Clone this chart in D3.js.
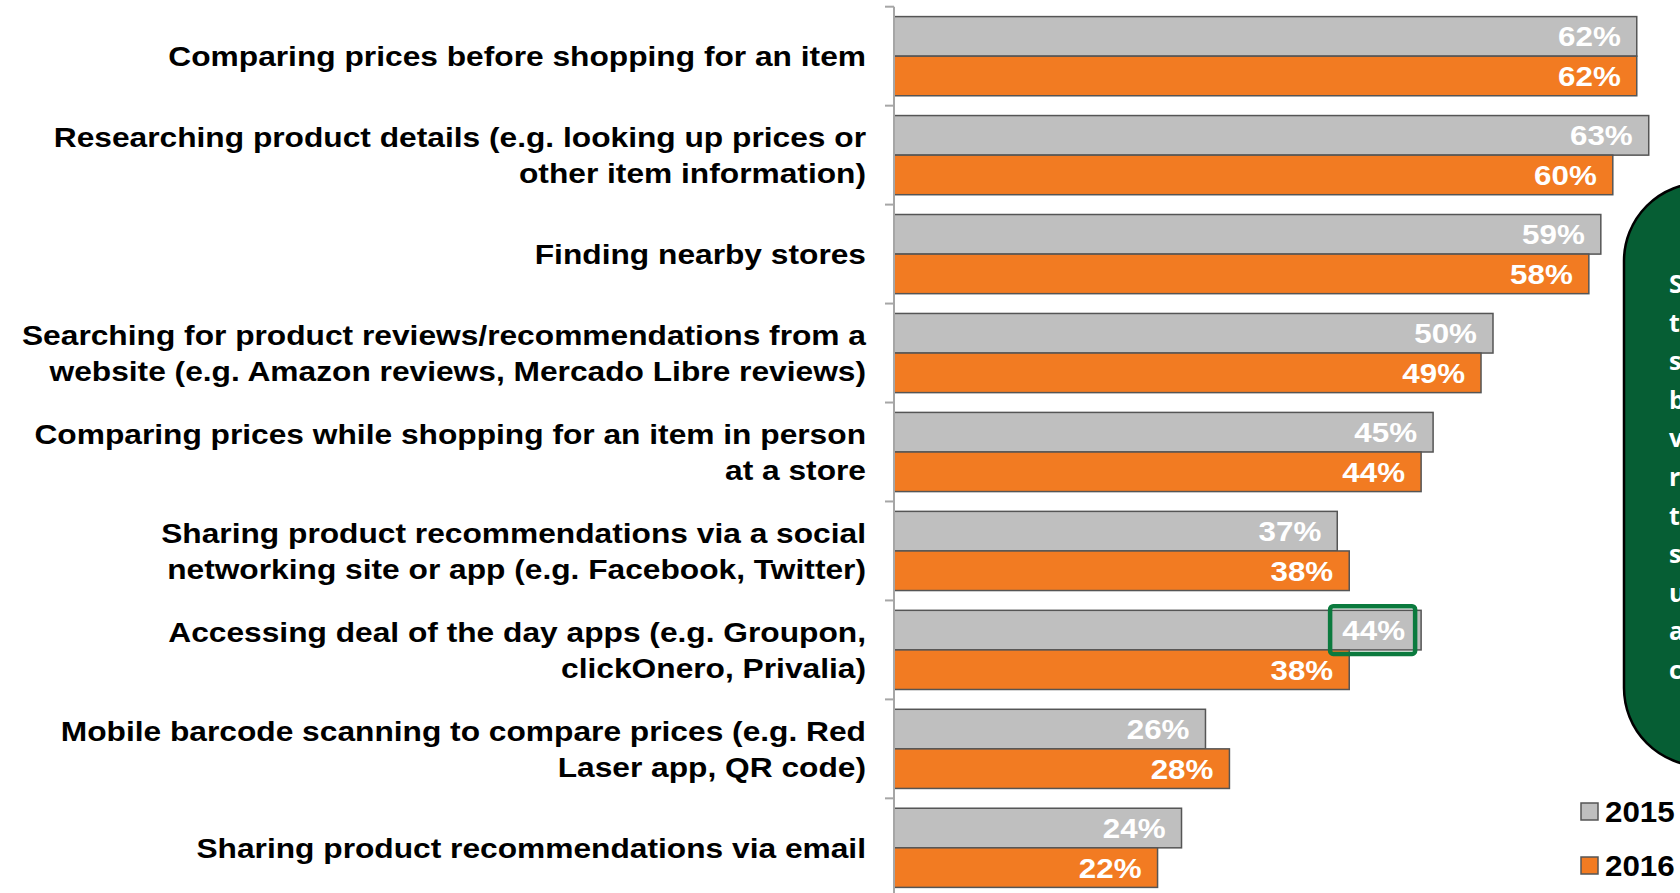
<!DOCTYPE html>
<html>
<head>
<meta charset="utf-8">
<script src="https://cdn.jsdelivr.net/npm/d3@7"></script>
<style>
  html, body { margin: 0; padding: 0; background: #fff; overflow: hidden; }
  svg { display: block; }
</style>
</head>
<body>
<svg id="chart" width="1680" height="893"></svg>
<script>
// Mobile shopping activities, share of respondents by year
const categories = [
  "Comparing prices before shopping for an item",
  "Researching product details (e.g. looking up prices or\nother item information)",
  "Finding nearby stores",
  "Searching for product reviews/recommendations from a\nwebsite (e.g. Amazon reviews, Mercado Libre reviews)",
  "Comparing prices while shopping for an item in person\nat a store",
  "Sharing product recommendations via a social\nnetworking site or app (e.g. Facebook, Twitter)",
  "Accessing deal of the day apps (e.g. Groupon,\nclickOnero, Privalia)",
  "Mobile barcode scanning to compare prices (e.g. Red\nLaser app, QR code)",
  "Sharing product recommendations via email"
];
const seriesNames = ["2015", "2016"];
const values2015 = [62, 63, 59, 50, 45, 37, 44, 26, 24];
const values2016 = [62, 60, 58, 49, 44, 38, 38, 28, 22];
const highlightCategory = "Accessing deal of the day apps (e.g. Groupon,\nclickOnero, Privalia)";
const highlightSeries = "2015";
const noteLines = ["Shoppers", "turn to", "smartphones", "before", "visiting a", "retailer,", "to check", "stores,", "use deal", "apps and", "compare"];

const colors = { "2015": "#bfbfbf", "2016": "#f27b22" };
const seriesValues = { "2015": values2015, "2016": values2016 };

const svg = d3.select("#chart");
const axisX = 894;
const FONT = "'Liberation Sans', Arial, sans-serif";

const x = d3.scaleLinear().domain([0, 70]).range([axisX, axisX + 70 * 11.98]);
const y = d3.scaleBand().domain(categories).range([6.7, 897.3]).paddingInner(0.2).paddingOuter(0.1);
const ySub = d3.scaleBand().domain(seriesNames).range([0, y.bandwidth()]);

const rows = categories.map((c, i) => ({ cat: c, vals: seriesNames.map(s => ({ s, v: seriesValues[s][i] })) }));

// Bars
const groups = svg.append("g").selectAll("g.row").data(rows).join("g")
  .attr("class", "row")
  .attr("transform", d => `translate(0,${y(d.cat)})`);

groups.selectAll("rect").data(d => d.vals).join("rect")
  .attr("x", x(0))
  .attr("y", d => ySub(d.s))
  .attr("width", d => x(d.v) - x(0))
  .attr("height", ySub.bandwidth())
  .attr("fill", d => colors[d.s])
  .attr("stroke", "#555")
  .attr("stroke-width", 1.5);

// Value labels inside bar ends (wide bold face)
groups.selectAll("text.val").data(d => d.vals).join("text")
  .attr("class", "val")
  .attr("transform", d => `translate(${x(d.v) - 16},${ySub(d.s) + ySub.bandwidth() / 2}) scale(1.12,1)`)
  .attr("dy", "0.36em")
  .attr("text-anchor", "end")
  .attr("fill", "#fff")
  .style("font-family", FONT)
  .style("font-weight", "bold")
  .style("font-size", "28px")
  .text(d => d.v + "%");

// Highlight frame around one label
const hi = rows.find(r => r.cat === highlightCategory).vals.find(v => v.s === highlightSeries);
svg.append("rect")
  .attr("x", x(hi.v) - 91)
  .attr("y", y(highlightCategory) + ySub(highlightSeries) - 4)
  .attr("width", 85)
  .attr("height", ySub.bandwidth() + 8)
  .attr("rx", 3)
  .attr("fill", "none")
  .attr("stroke", "#0b7a3e")
  .attr("stroke-width", 4.5);

// Category axis: vertical rule with outward ticks between groups
svg.append("line")
  .attr("x1", axisX).attr("x2", axisX)
  .attr("y1", 6.7).attr("y2", 893)
  .attr("stroke", "#a6a6a6").attr("stroke-width", 2);
const step = y.step();
const tickYs = d3.range(categories.length + 1).map(i => y(categories[0]) - y.paddingOuter() * step + i * step);
svg.append("g").selectAll("line").data(tickYs).join("line")
  .attr("x1", axisX - 9).attr("x2", axisX)
  .attr("y1", d => d).attr("y2", d => d)
  .attr("stroke", "#a6a6a6").attr("stroke-width", 2);

// Category labels
const labels = svg.append("g").selectAll("text").data(categories).join("text")
  .attr("text-anchor", "end")
  .attr("fill", "#000")
  .style("font-family", FONT)
  .style("font-weight", "bold")
  .style("font-size", "28px");
labels.each(function(c) {
  const lines = c.split("\n");
  const cy = y(c) + y.bandwidth() / 2;
  const lh = 36.5;
  const t = d3.select(this).attr("transform", `translate(866,${cy}) scale(1.133,1)`);
  lines.forEach((ln, i) => {
    t.append("tspan")
      .attr("x", 0)
      .attr("y", (i - (lines.length - 1) / 2) * lh)
      .attr("dy", "0.36em")
      .text(ln);
  });
});

// Note panel on the right
svg.append("rect")
  .attr("x", 1624).attr("y", 183)
  .attr("width", 200).attr("height", 583)
  .attr("rx", 78).attr("ry", 78)
  .attr("fill", "#065e34")
  .attr("stroke", "#000").attr("stroke-width", 2.5);
svg.append("g").selectAll("text").data(noteLines).join("text")
  .attr("x", 1669)
  .attr("y", (d, i) => 284 + i * 38.6)
  .attr("dy", "0.36em")
  .attr("fill", "#fff")
  .style("font-family", "'Open Sans', sans-serif")
  .style("font-weight", "bold")
  .style("font-size", "25px")
  .text(d => d);

// Legend
const legend = svg.append("g").selectAll("g").data(seriesNames).join("g")
  .attr("transform", (d, i) => `translate(1581,${803 + i * 54})`);
legend.append("rect")
  .attr("width", 17).attr("height", 17)
  .attr("fill", d => colors[d])
  .attr("stroke", "#555").attr("stroke-width", 1.5);
legend.append("text")
  .attr("transform", "translate(24,8.5) scale(1.08,1)")
  .attr("dy", "0.36em")
  .attr("fill", "#000")
  .style("font-family", FONT)
  .style("font-weight", "bold")
  .style("font-size", "29px")
  .text(d => d);
</script>
</body>
</html>
